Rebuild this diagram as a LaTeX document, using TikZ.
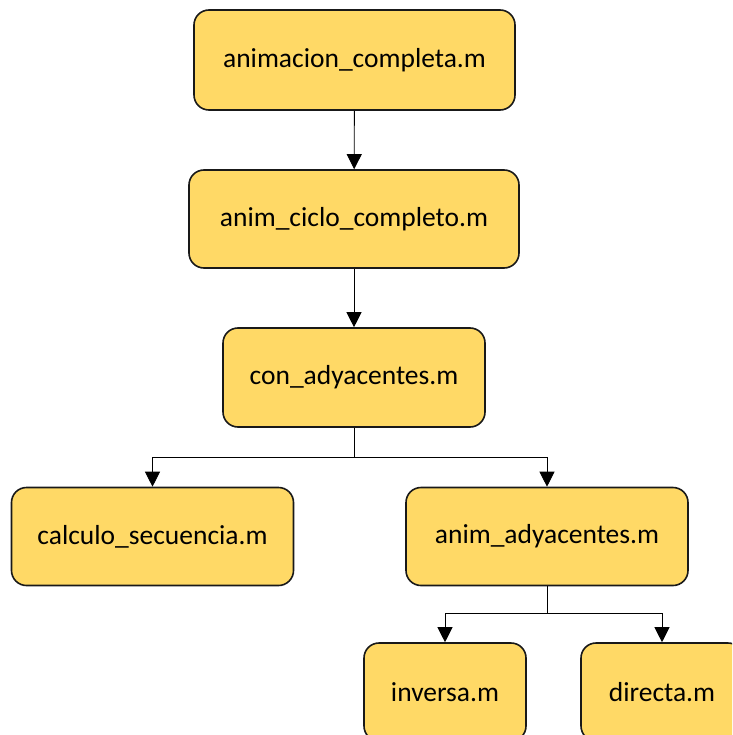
\documentclass[tikz,border=0pt]{standalone}
\usepackage{fontspec}
\setmainfont{Carlito}
\usepackage{tikz}
\usetikzlibrary{arrows.meta,positioning,calc}
\definecolor{boxfill}{HTML}{FFD966}

\begin{document}
\begin{tikzpicture}[x=1pt,y=-1pt,>={Triangle[width=15pt,length=15pt]},
  archivo/.style={draw=black!90,line width=1.6pt,fill=boxfill,rounded corners=15pt,
    font=\fontsize{27.5}{32}\selectfont,inner sep=0pt},
  enlace/.style={line width=0.9pt}]
\useasboundingbox (0,0) rectangle (732,735);
\clip (0,0) rectangle (732,735);
\node[archivo,minimum width=321pt,minimum height=100pt] (compl) at (354.5,60) {animacion\_completa.m};
\node[archivo,minimum width=330pt,minimum height=98pt] (ciclo) at (354,219) {anim\_ciclo\_completo.m};
\node[archivo,minimum width=262pt,minimum height=99pt] (conady) at (354,377.5) {con\_adyacentes.m};
\node[archivo,minimum width=282pt,minimum height=98pt] (calc) at (152.5,536.5) {calculo\_secuencia.m};
\node[archivo,minimum width=282pt,minimum height=98pt] (animady) at (547,536.5) {anim\_adyacentes.m};
\node[archivo,minimum width=162pt,minimum height=98pt] (inv) at (445,692) {inversa.m};
\node[archivo,minimum width=162pt,minimum height=98pt] (dir) at (662,692) {directa.m};
\coordinate (rama1) at (354,457);
\coordinate (rama2) at (547,613);
\draw[enlace,->] (compl) -- (ciclo);
\draw[enlace,->] (ciclo) -- (conady);
\draw[enlace] (conady) -- (rama1);
\draw[enlace,->] (rama1) -| (calc);
\draw[enlace,->] (rama1) -| (animady);
\draw[enlace] (animady) -- (rama2);
\draw[enlace,->] (rama2) -| (inv);
\draw[enlace,->] (rama2) -| (dir);
\end{tikzpicture}
\end{document}
